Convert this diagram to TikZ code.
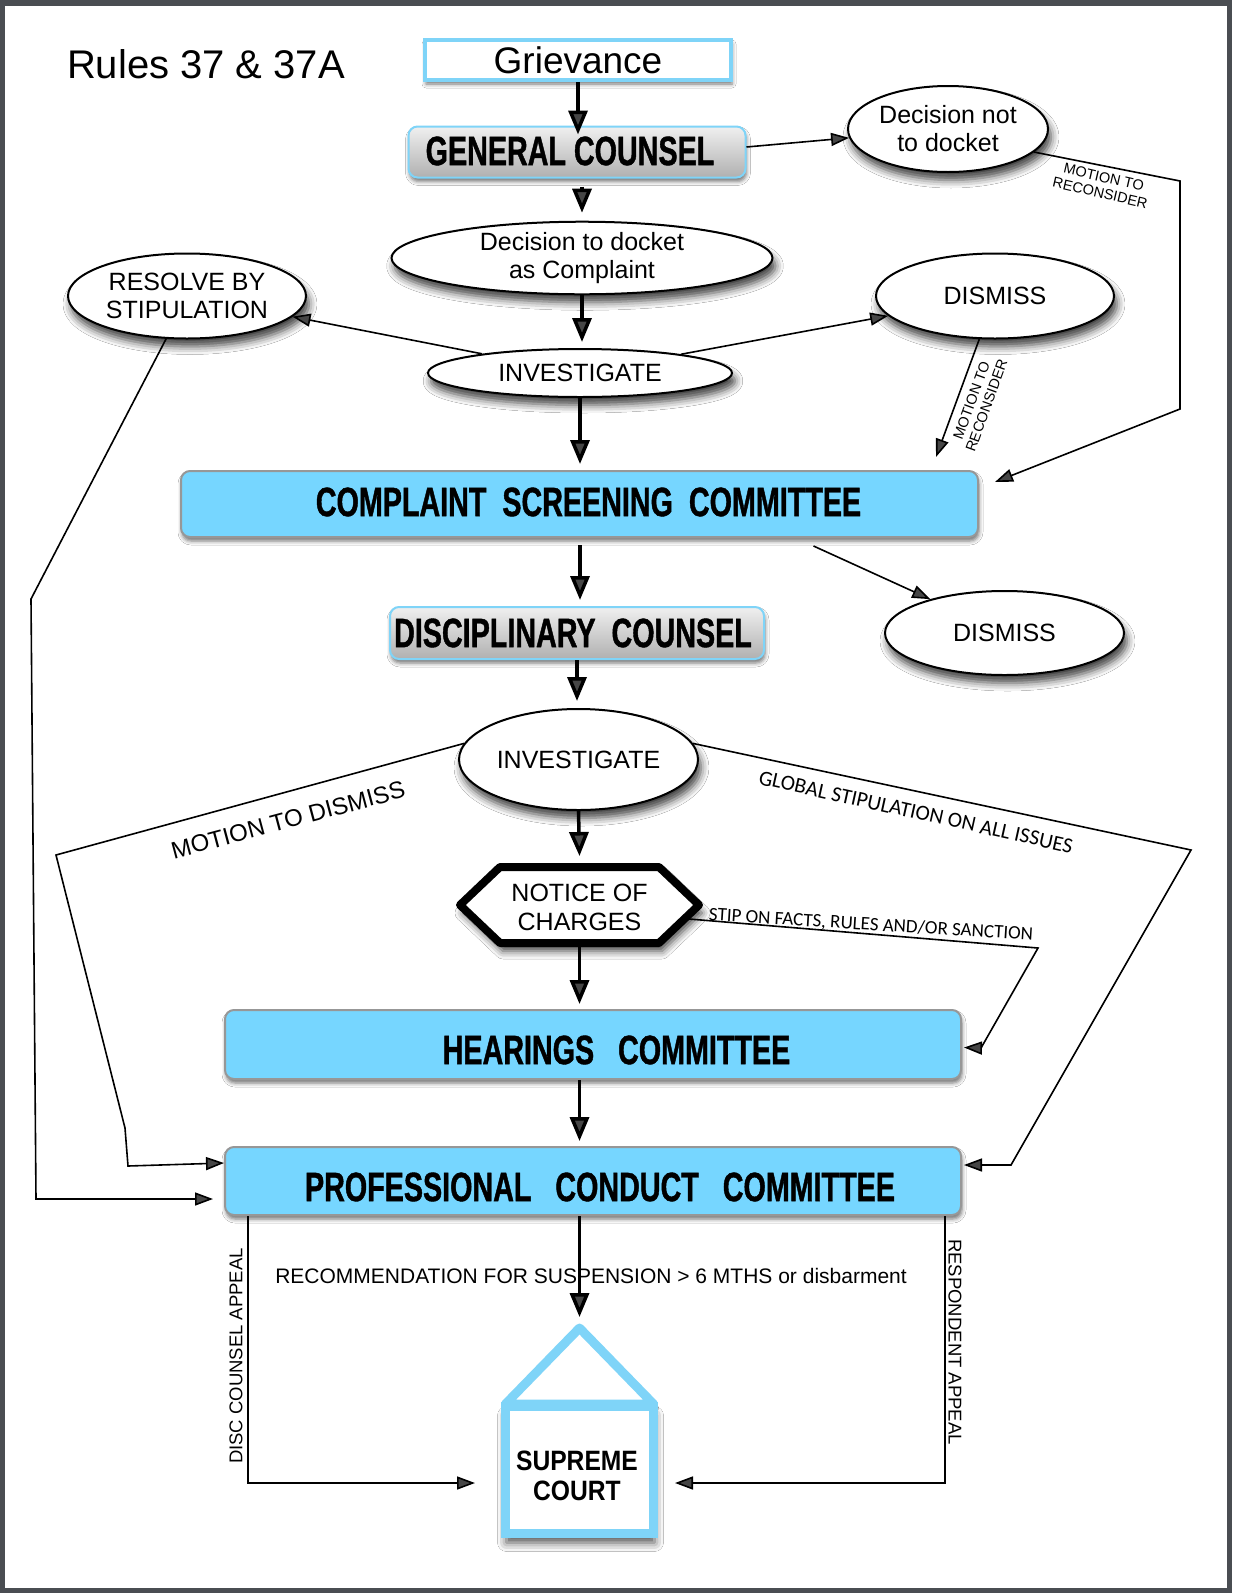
\documentclass[tikz,border=0pt]{standalone}
\usepackage{fontspec}
\setmainfont{Liberation Sans}
\newfontfamily\condf{Liberation Sans}[FakeStretch=0.7, BoldFeatures={FakeBold=1}]
\newfontfamily\semicond{Liberation Sans}[FakeStretch=0.88]
\newfontfamily\calib{Carlito}
\usetikzlibrary{arrows.meta,shadows.blur,shapes.geometric,calc}
\definecolor{skyb}{HTML}{76D6FF}
\definecolor{blueb}{HTML}{7FD4F8}
\definecolor{framegray}{HTML}{4A4D52}
\definecolor{boxedge}{HTML}{979797}
\newcommand\fs[2]{\fontsize{#1}{#2}\selectfont}
\begin{document}
\begin{tikzpicture}[x=1pt,y=-1pt,
  ell/.style={ellipse, draw=black, line width=2pt, fill=white, inner sep=0pt, align=center, font=\fs{25}{28},
    blur shadow={shadow xshift=3pt, shadow yshift=-8pt, shadow blur radius=8pt, shadow opacity=75}},
  boxshadow/.style={blur shadow={shadow xshift=1pt, shadow yshift=-4pt, shadow blur radius=4pt, shadow opacity=55}},
  bluebox/.style={rectangle, rounded corners=9pt, draw=boxedge, line width=2pt, fill=skyb, inner sep=0pt, boxshadow},
  graybox/.style={rectangle, rounded corners=9pt, draw=blueb, line width=2pt, top color=gray!12, bottom color=gray!62, inner sep=0pt, boxshadow},
  condtext/.style={font=\condf\bfseries\fs{41}{44}, inner sep=0pt},
  flow/.style={line width=3.5pt, -{Triangle[length=24pt,width=19pt]}},
  conn/.style={line width=1.6pt, line join=miter, -{Triangle[length=18pt,width=13pt]}},
  lbl/.style={inner sep=0pt, align=center}
]
% frame
\fill[framegray] (0,0) rectangle (1232,1593);
\fill[white] (5,6) rectangle (1227,1588);
\useasboundingbox (0,0) rectangle (1232,1593);

% title
\node[font=\fs{40}{44}, inner sep=0pt] (title) at (206,64) {Rules 37 \& 37A};

% nodes
\node[rectangle, draw=blueb, line width=4pt, fill=white, minimum width=306pt, minimum height=40pt, inner sep=0pt, font=\fs{37}{40}, boxshadow] (griev) at (578,60) {Grievance};
\node[graybox, minimum width=337pt, minimum height=51pt] (gc) at (577,152) {};
\node[condtext] (gct) at (570,151) {GENERAL COUNSEL};
\node[ell, minimum width=200pt, minimum height=86pt] (dnot) at (948,129) {Decision not\\to docket};
\node[ell, minimum width=381pt, minimum height=63pt] (dock) at (582,258) {Decision to docket\\as Complaint};
\node[ell, minimum width=304pt, minimum height=48pt] (inv1) at (580,373) {INVESTIGATE};
\node[ell, minimum width=238pt, minimum height=85pt] (res) at (187,296) {RESOLVE BY\\STIPULATION};
\node[ell, minimum width=238pt, minimum height=85pt] (dis1) at (995,296) {DISMISS};
\node[bluebox, minimum width=797pt, minimum height=66pt] (csc) at (579.5,504) {};
\node[condtext] (csct) at (588.5,502) {COMPLAINT~~SCREENING~~COMMITTEE};
\node[ell, minimum width=239pt, minimum height=84pt] (dis2) at (1004.5,633) {DISMISS};
\node[graybox, minimum width=374pt, minimum height=52pt] (dc) at (577,633) {};
\node[condtext] (dct) at (573,633) {DISCIPLINARY~~COUNSEL};
\node[ell, minimum width=239pt, minimum height=101pt] (inv2) at (578.5,759.5) {INVESTIGATE};

% notice of charges hexagon
\coordinate (nc) at (579.5,905);
\draw[line width=8pt, line join=round, fill=white, blur shadow={shadow xshift=3pt, shadow yshift=-8pt, shadow blur radius=8pt, shadow opacity=75}]
  ($(nc)+(-119.5,0)$) -- ($(nc)+(-79.5,-38)$) -- ($(nc)+(79.5,-38)$) -- ($(nc)+(119.5,0)$) -- ($(nc)+(79.5,38)$) -- ($(nc)+(-79.5,38)$) -- cycle;
\node[lbl, font=\fs{25}{29}] (notice) at (579.5,907) {NOTICE OF\\CHARGES};

\node[bluebox, minimum width=736pt, minimum height=69pt] (hc) at (593,1044.5) {};
\node[condtext] (hct) at (616.5,1050) {HEARINGS~~~COMMITTEE};
\node[bluebox, minimum width=736pt, minimum height=68pt] (pcc) at (593,1181) {};
\node[condtext] (pcct) at (600,1187) {PROFESSIONAL~~~CONDUCT~~~COMMITTEE};

% supreme court
\coordinate (apex) at (579.5,1328);
\draw[draw=blueb, line width=9pt, line join=round, fill=white, boxshadow] (505.5,1404) -- (apex) -- (653.5,1404) -- cycle;
\node[rectangle, draw=blueb, line width=9pt, fill=white, minimum width=148pt, minimum height=127pt, inner sep=0pt,
  blur shadow={shadow xshift=1pt, shadow yshift=-9pt, shadow blur radius=9pt, shadow opacity=70}] (sc) at (579.5,1470) {};
\node[lbl, font=\semicond\bfseries\fs{28}{30}] (sct) at (577,1476) {SUPREME\\COURT};

% labels
\node[lbl, font=\fs{14.5}{16}, rotate=-13] (mr1) at (1102,185) {MOTION TO\\RECONSIDER};
\node[lbl, font=\fs{14.5}{16}, rotate=70] (mr2) at (979,403) {MOTION TO\\RECONSIDER};
\node[lbl, font=\fs{24}{26}, rotate=15] (mtd) at (288,820) {MOTION TO DISMISS};
\node[lbl, font=\calib\fs{21.5}{24}, rotate=-12.5] (glob) at (916,812) {GLOBAL STIPULATION ON ALL ISSUES};
\node[lbl, font=\calib\fs{19}{22}, rotate=-3.5] (stip) at (871,925) {STIP ON FACTS, RULES AND/OR SANCTION};
\node[lbl, font=\fs{21}{24}] (rec) at (591,1276) {RECOMMENDATION FOR SUSPENSION > 6 MTHS or disbarment};
\node[lbl, font=\fs{18.5}{20}, rotate=90] (dcal) at (236,1356) {DISC COUNSEL APPEAL};
\node[lbl, font=\fs{18.5}{20}, rotate=-90] (ral) at (955,1342) {RESPONDENT APPEAL};

% main flow
\draw[flow] (griev.south) -- ([yshift=-9pt]griev.south |- gc.north);
\draw[flow] ([yshift=-8pt]dock.north |- gc.south) -- ([yshift=8pt]dock.north);
\draw[flow] (dock.south) -- ([yshift=6pt]dock.south |- inv1.north);
\draw[flow] (inv1.south) -- ([yshift=6pt]inv1.south |- csc.north);
\draw[flow] ([yshift=-7pt]inv1.south |- csc.south) -- ([yshift=6pt]inv1.south |- dc.north);
\draw[flow] (dc.south) -- ([yshift=7pt]dc.south |- inv2.north);
\draw[flow] (inv2.south) -- ([yshift=49pt]nc);
\draw[flow] ([yshift=-42pt]nc) -- ([yshift=5pt]nc |- hc.north);
\draw[flow] (nc |- hc.south) -- ([yshift=5pt]nc |- pcc.north);
\draw[flow] (nc |- pcc.south) -- ([yshift=11pt]apex);

% side connectors
\draw[conn] ([yshift=5pt]gc.east) -- (dnot);
\draw[conn] (inv1) -- (res);
\draw[conn] (inv1) -- (dis1);
\draw[conn] ([xshift=234pt,yshift=-8pt]csc.south) -- (dis2);
\draw[conn] (dis1.250) -- ([xshift=-43pt,yshift=13pt]csc.north east);
\draw[conn] (dnot.-15) -- (1180,181) -- (1180,409) -- ([xshift=16pt,yshift=-12pt]csc.north east);
\draw[conn, shorten >=11pt] (res.244) -- (31,599) -- (36,1199) -- ([yshift=-18pt]pcc.west);
\draw[conn] (inv2.172) -- (56,855) -- (125,1128) -- (128,1166) -- ([yshift=18pt]pcc.west);
\draw[conn] (inv2.8) -- (1191,850) -- (1011,1165) -- ([xshift=2pt,yshift=16pt]pcc.east);
\draw[conn] ($(nc)+(109.5,14)$) -- (1038,948) -- (981,1048) -- ([xshift=2pt,yshift=-3pt]hc.east);
\draw[conn] ([xshift=24pt]pcc.south west) |- ([xshift=-26pt,yshift=-13pt]sc.west);
\draw[conn] ([xshift=-17pt]pcc.south east) |- ([xshift=17pt,yshift=-13pt]sc.east);
\end{tikzpicture}
\end{document}
